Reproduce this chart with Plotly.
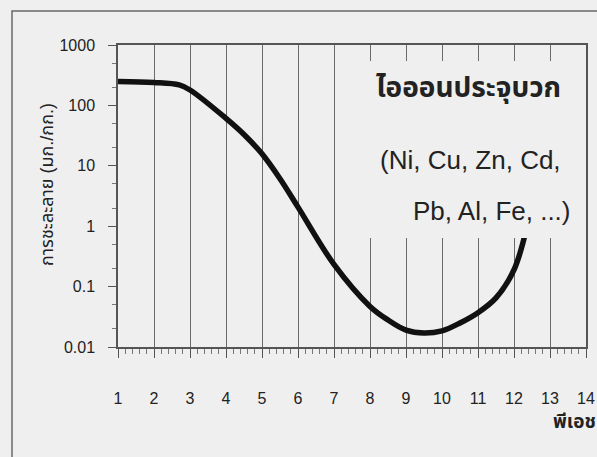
import plotly.graph_objects as go

# Data
ph = [1, 2, 2.7, 3, 4, 4.5, 5, 5.5, 6, 7, 8, 8.5, 9, 9.5, 10, 10.5, 11, 11.5, 12, 12.35]
solubility = [248, 239, 218, 180, 61, 33, 15.8, 6.1, 2.07, 0.233, 0.047, 0.028, 0.019,
              0.017, 0.0185, 0.025, 0.037, 0.065, 0.19, 0.93]
x_ticks = list(range(1, 15))
y_ticks = [0.01, 0.1, 1, 10, 100, 1000]
y_tick_labels = ["0.01", "0.1", "1", "10", "100", "1000"]

title_y = "การชะละลาย (มก./กก.)"
title_x = "พีเอช"
label_1 = "ไอออนประจุบวก"
label_2 = "(Ni, Cu, Zn, Cd,"
label_3 = "Pb, Al, Fe, ...)"

W, H = 597, 457
L, R, T, B = 118, 11, 45, 110
pw, ph_ = W - L - R, H - T - B

def px(xp):
    return (xp - L) / pw

def py(yp):
    return (H - B - yp) / ph_

BG = "#efefef"
AX = "#555555"
FONT = "Liberation Sans, Arial, Noto Sans Thai, Tahoma, sans-serif"

fig = go.Figure()
fig.add_trace(go.Scatter(
    x=ph, y=solubility, mode="lines",
    line=dict(color="#111111", width=5.5, shape="spline", smoothing=1.0),
    showlegend=False, hoverinfo="skip",
))

fig.update_layout(
    width=W, height=H,
    margin=dict(l=L, r=R, t=T, b=B, autoexpand=False),
    paper_bgcolor=BG, plot_bgcolor=BG,
    font=dict(family=FONT, size=16, color="#222222"),
    showlegend=False,
    xaxis=dict(
        range=[1, 14], tickvals=x_ticks, ticktext=[str(v) for v in x_ticks],
        showgrid=True, gridcolor="#6a6a6a", gridwidth=1,
        showline=True, linecolor=AX, linewidth=1.5, mirror=True,
        ticks="outside", ticklen=9, tickcolor=AX, tickwidth=1,
        minor=dict(dtick=0.2, ticks="outside", ticklen=5, tickcolor="#777777", showgrid=False),
        ticklabelstandoff=27, zeroline=False, automargin=False,
        tickfont=dict(size=16),
    ),
    yaxis=dict(
        type="log", range=[-2, 3], tickvals=y_ticks, ticktext=y_tick_labels,
        showgrid=False,
        showline=True, linecolor=AX, linewidth=1.5, mirror=True,
        ticks="outside", ticklen=8, tickcolor=AX, tickwidth=1,
        minor=dict(ticks="outside", ticklen=4, tickcolor="#777777", showgrid=False),
        ticklabelstandoff=10, zeroline=False, automargin=False,
        tickfont=dict(size=16),
    ),
    shapes=[
        # text box covering grid
        dict(type="rect", xref="paper", yref="paper",
             x0=px(352), x1=px(584), y0=py(238), y1=py(61),
             fillcolor=BG, line=dict(width=0), layer="above"),
        # outer frame
        dict(type="rect", xref="paper", yref="paper",
             x0=px(12), x1=px(640), y0=py(480), y1=py(11),
             line=dict(color="#6a6a6a", width=1.5), fillcolor="rgba(0,0,0,0)",
             layer="below"),
    ],
    annotations=[
        dict(text=title_y, xref="paper", yref="paper", x=px(47), y=py(185),
             textangle=-90, showarrow=False, font=dict(size=18),
             xanchor="center", yanchor="middle"),
        dict(text="<b>" + title_x + "</b>", xref="paper", yref="paper", x=px(551), y=py(421),
             showarrow=False, font=dict(size=19), xanchor="left", yanchor="middle"),
        dict(text="<b>" + label_1 + "</b>", xref="paper", yref="paper", x=px(563), y=py(88),
             showarrow=False, font=dict(size=28), xanchor="right", yanchor="middle"),
        dict(text=label_2, xref="paper", yref="paper", x=px(563), y=py(160),
             showarrow=False, font=dict(size=26), xanchor="right", yanchor="middle"),
        dict(text=label_3, xref="paper", yref="paper", x=px(573), y=py(211),
             showarrow=False, font=dict(size=26), xanchor="right", yanchor="middle"),
    ],
)

fig.write_html(
    "out.html",
    config={"displayModeBar": False},
    post_script="document.body.style.margin='0';document.body.style.padding='0';",
)
